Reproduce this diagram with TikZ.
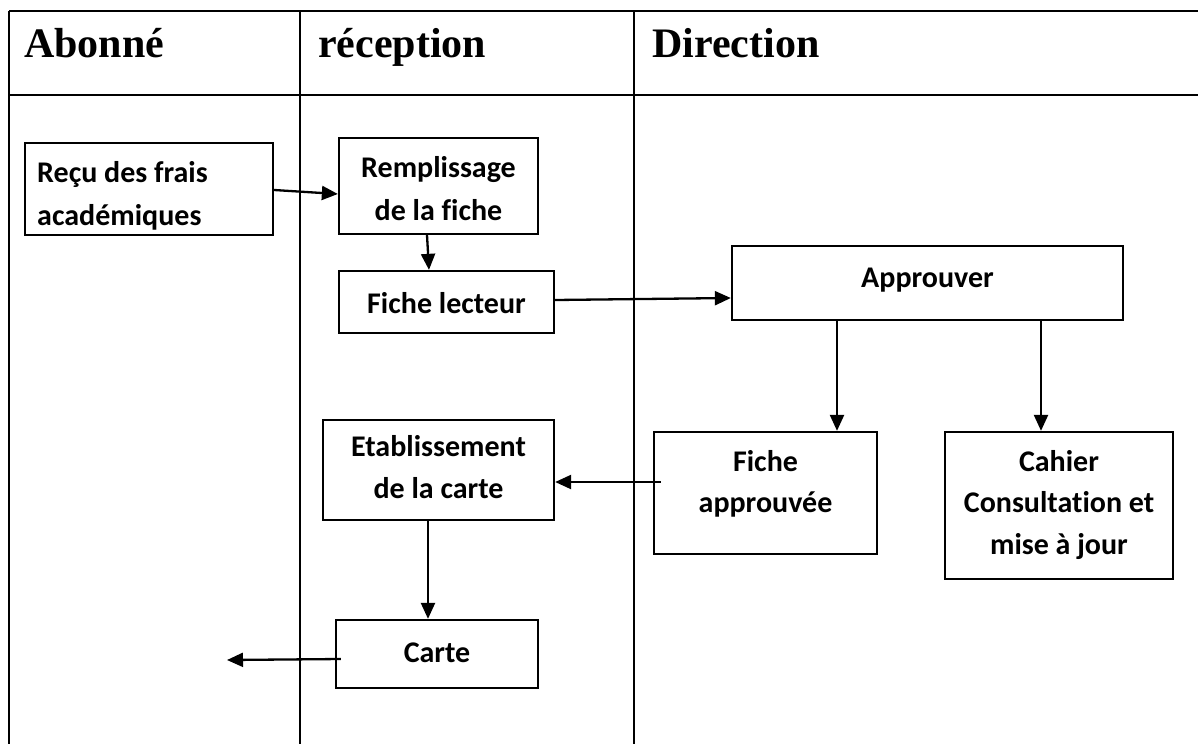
\documentclass[tikz,border=0pt]{standalone}
\usepackage{fontspec}
\setmainfont{Liberation Serif}
\newfontfamily\boxfont{Carlito}[Ligatures={CommonOff}]
\usetikzlibrary{arrows.meta}
\begin{document}
\begin{tikzpicture}[x=1pt,y=-1pt,
  lane/.style={line width=2.6pt},
  box/.style={draw, line width=2.3pt, rectangle, inner sep=0pt},
  txt/.style={font=\boxfont\bfseries\fontsize{30}{36}\selectfont, inner sep=0pt, anchor=base},
  txtl/.style={txt, anchor=base west},
  head/.style={font=\bfseries\fontsize{42}{50}\selectfont, inner sep=0pt, anchor=base west},
  arr/.style={line width=2.3pt, -{Triangle[length=16pt,width=14pt]}}]
\useasboundingbox (0,0) rectangle (1198,744);
% table
\draw[lane] (9,11) -- (1198,11);
\draw[lane] (9,95) -- (1198,95);
\draw[lane] (9,11) -- (9,744);
\draw[lane] (300,11) -- (300,744);
\draw[lane] (634,11) -- (634,744);
\node[head] (h1) at (24,57) {Abonné};
\node[head] (h2) at (318,57) {réception};
\node[head] (h3) at (652,57) {Direction};
% boxes
\node[box, minimum width=248, minimum height=92] (recu) at (149,189) {};
\node[box, minimum width=199, minimum height=96] (rempl) at (438.5,186) {};
\node[box, minimum width=215, minimum height=62] (lect) at (446.5,302) {};
\node[box, minimum width=391, minimum height=74] (appr) at (927.5,283) {};
\node[box, minimum width=223, minimum height=122] (fa) at (765.5,493) {};
\node[box, minimum width=228, minimum height=147] (cah) at (1059,505.5) {};
\node[box, minimum width=231, minimum height=100] (etab) at (438.5,470) {};
\node[box, minimum width=202, minimum height=68] (carte) at (437,654) {};
% texts
\node[txtl] (t1a) at (37,182) {Reçu des frais};
\node[txtl] (t1b) at (37,225) {académiques};
\node[txt] (t2a) at (438.5,177) {Remplissage};
\node[txt] (t2b) at (438.5,220) {de la fiche};
\node[txt] (t3) at (446.5,313) {Fiche lecteur};
\node[txt] (t4) at (927.5,287) {Approuver};
\node[txt] (t5a) at (765.5,471) {Fiche};
\node[txt] (t5b) at (765.5,512) {approuvée};
\node[txt] (t6a) at (1059,471) {Cahier};
\node[txt] (t6b) at (1059,512) {Consultation et};
\node[txt] (t6c) at (1059,554) {mise à jour};
\node[txt] (t7a) at (438.5,456) {Etablissement};
\node[txt] (t7b) at (438.5,498) {de la carte};
\node[txt] (t8) at (437,662) {Carte};
\coordinate (out) at (227,660);
% arrows
\draw[arr] ([yshift=-1pt]recu.east) -- ([yshift=-8pt]rempl.west);
\draw[arr] ([xshift=-11.5pt]rempl.south) -- ([xshift=-17.5pt]lect.north);
\draw[arr] ([yshift=2pt]lect.east) -- ([yshift=-15pt]appr.west);
\draw[arr] ([xshift=-90.5pt]appr.south) -- ([xshift=71.5pt]fa.north);
\draw[arr] ([xshift=113.5pt]appr.south) -- ([xshift=-18pt]cah.north);
\draw[arr] ([shift={(8pt,11pt)}]fa.west) -- ([yshift=-12pt]etab.east);
\draw[arr] ([xshift=-10.5pt]etab.south) -- ([xshift=-9pt]carte.north);
\draw[arr] ([shift={(6pt,-5pt)}]carte.west) -- (out);
\end{tikzpicture}
\end{document}
